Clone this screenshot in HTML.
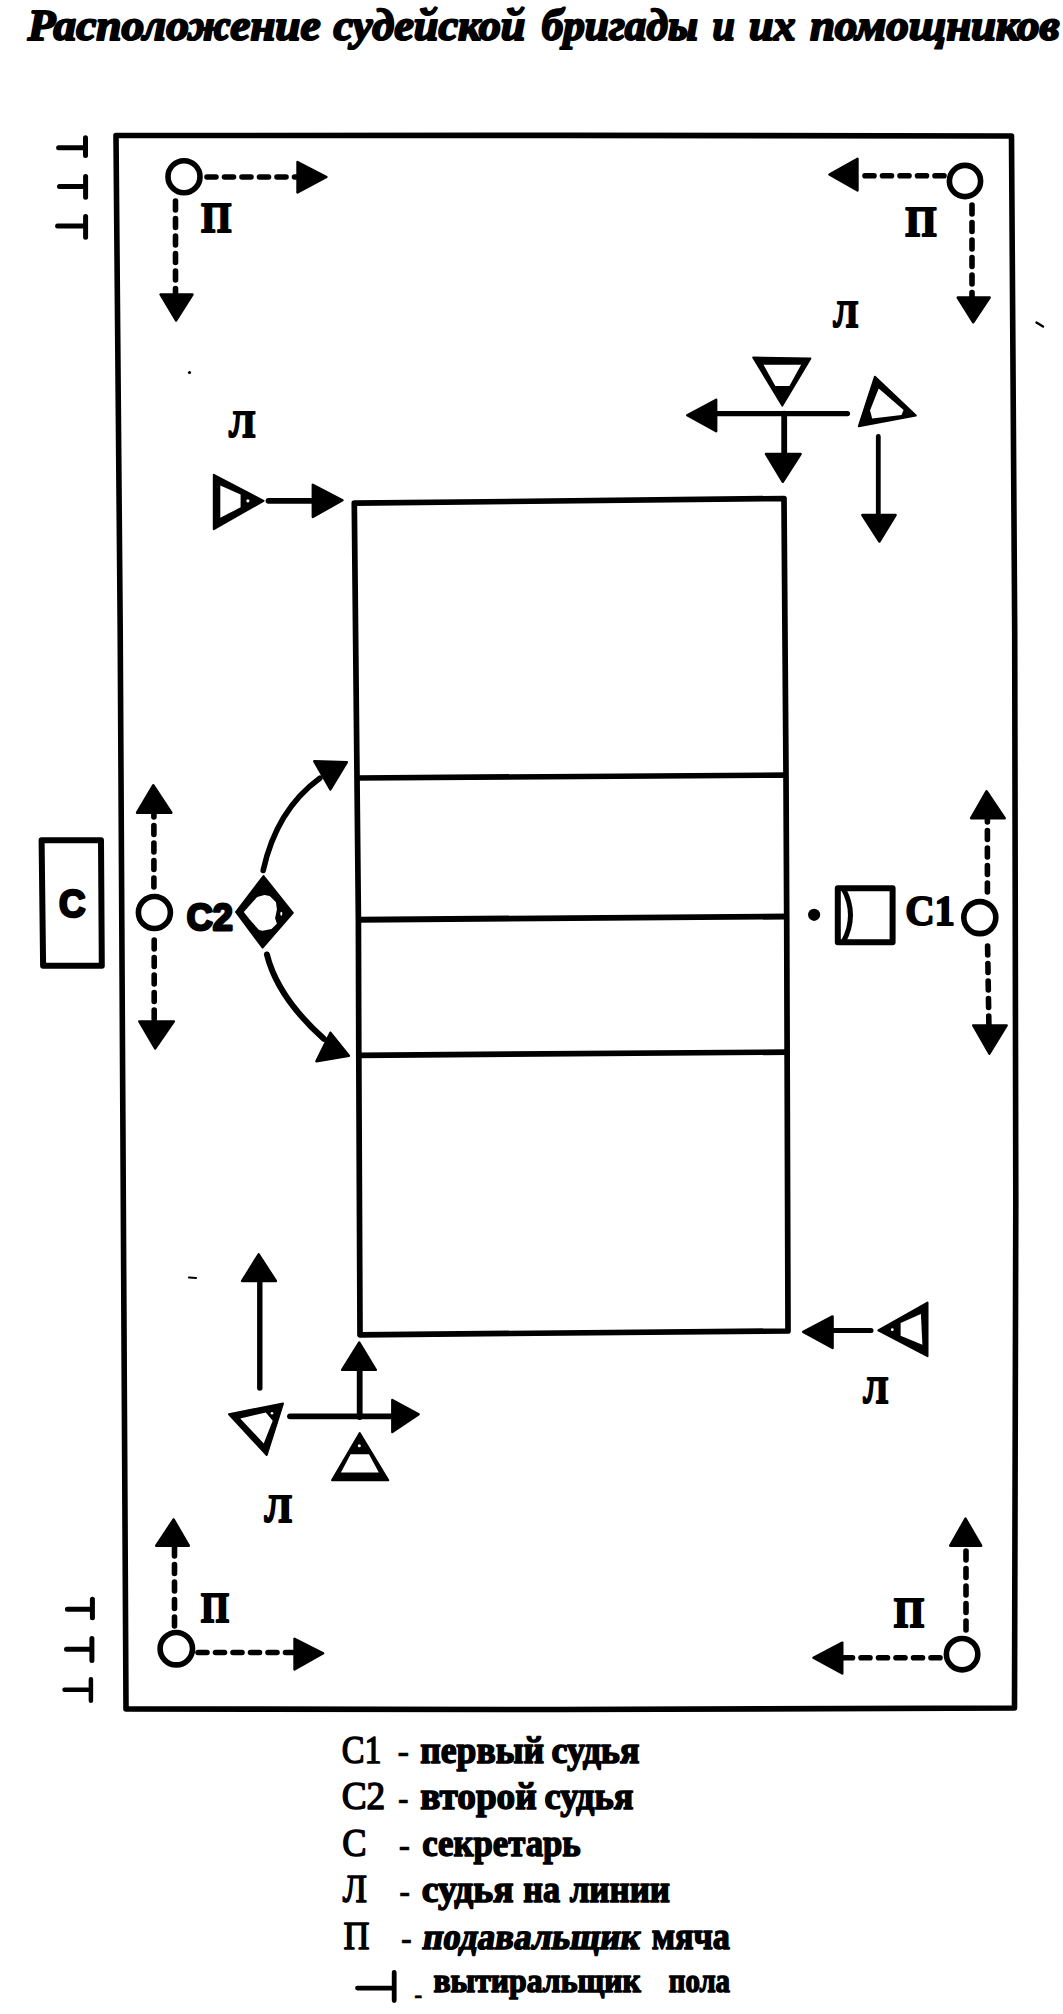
<!DOCTYPE html>
<html lang="ru">
<head>
<meta charset="utf-8">
<title>Расположение судейской бригады и их помощников</title>
<style>
html,body{margin:0;padding:0;background:#fff;}
body{width:1063px;height:2014px;overflow:hidden;position:relative;}
svg{position:absolute;left:0;top:0;display:block;}
text{font-family:"Liberation Serif","DejaVu Serif",serif;fill:#000;}
.sans{font-family:"Liberation Sans","DejaVu Sans",sans-serif;}
.b{font-weight:bold;}
.ln{stroke:#000;fill:none;stroke-linecap:butt;}
.rl{stroke:#000;fill:none;stroke-linecap:round;}
.dash{stroke:#000;fill:none;stroke-width:5.6;stroke-dasharray:9 8.5;stroke-linecap:round;}
.fill{fill:#000;stroke:#000;stroke-width:2.4;stroke-linejoin:round;}
.tri{fill:#000;stroke:#000;stroke-width:2;stroke-linejoin:round;}
.hole{fill:#fff;stroke:none;}
.circ{fill:#fff;stroke:#000;stroke-width:5.6;}
.lbl{stroke:#000;stroke-width:2.2;stroke-linejoin:round;}
.lg{stroke:#000;stroke-width:1.5;stroke-linejoin:round;}
.lgd{stroke:#000;stroke-width:0.7;stroke-linejoin:round;}
.lgb{stroke:#000;stroke-width:1.5;stroke-linejoin:round;font-weight:bold;}
</style>
</head>
<body>
<svg width="1063" height="2014" viewBox="0 0 1063 2014">
<rect x="0" y="0" width="1063" height="2014" fill="#fff"/>

<g id="title" font-weight="bold" font-style="italic" stroke="#000" stroke-width="2.2" stroke-linejoin="round">
<text x="27.7" y="40" font-size="44.5" textLength="292.9" lengthAdjust="spacingAndGlyphs">Расположение</text>
<text x="333.5" y="40" font-size="44.5" textLength="191.9" lengthAdjust="spacingAndGlyphs">судейской</text>
<text x="541.7" y="40" font-size="44.5" textLength="156.2" lengthAdjust="spacingAndGlyphs">бригады</text>
<text x="712.4" y="40" font-size="44.5" textLength="22.3" lengthAdjust="spacingAndGlyphs">и</text>
<text x="749.0" y="40" font-size="44.5" textLength="46.4" lengthAdjust="spacingAndGlyphs">их</text>
<text x="809.9" y="40" font-size="44.5" textLength="249.7" lengthAdjust="spacingAndGlyphs">помощников</text>
</g>
<path class="ln" stroke-width="5.6" stroke-linejoin="round" d="M116,135.5 L560,135.4 L1011.5,136 L1014.7,630 L1015.8,1200 L1014.5,1708 L560,1709.5 L126,1709 L123.3,1200 L120.2,630 Z"/>
<path class="ln" stroke-width="5.7" stroke-linejoin="round" d="M354.3,503.2 L784,498.5 L786,775 L786.7,916.5 L788,1331 L360,1334.8 L358.8,1055 L358.4,919.7 L357,778 Z"/>
<path class="ln" stroke-width="5.7" d="M357,778 L786,775.1"/>
<path class="ln" stroke-width="5.9" d="M358.4,919.7 L786.7,916.5"/>
<path class="ln" stroke-width="5.7" d="M358.8,1055.3 L787,1052.1"/>
<g id="tmarks" class="rl" stroke-width="5">
<path d="M58.6,147.7 L85.5,147.7 M85.5,137.7 L85.5,155.4"/>
<path d="M59.5,186.6 L85.6,186.6 M85.6,176.4 L85.6,197.3"/>
<path d="M57.6,225.9 L85.6,225.9 M85.6,216.4 L85.6,237.3"/>
<path d="M67.4,1609.3 L92.4,1609.3 M92.4,1599.2 L92.4,1617.7"/>
<path d="M66.5,1649.3 L91.9,1649.3 M91.9,1638.5 L91.9,1660.5"/>
<path stroke-width="4.5" d="M64.5,1689.7 L90.9,1689.7 M90.9,1679.2 L90.9,1700.7"/>
</g>
<g id="corners">
<path class="dash" d="M207,177 L296,177"/>
<path class="fill" d="M297.5,162 L326.5,177 L297.5,192.5 Z"/>
<path class="dash" d="M175.5,201 L175.5,293"/>
<path class="fill" d="M160.5,294.5 L192.5,294.5 L176,320.5 Z"/>
<circle class="circ" cx="184" cy="176.7" r="16"/>
<text x="201.2" y="231.5" font-size="41.5" class="b lbl" textLength="30.0" lengthAdjust="spacingAndGlyphs">П</text>
<path class="dash" d="M944,175.7 L858,175.7"/>
<path class="fill" d="M857.5,158.7 L829.4,174.5 L857.5,190.5 Z"/>
<path class="dash" d="M972,205 L972,297"/>
<path class="fill" d="M957.7,297.5 L989.7,297.5 L973.2,322.3 Z"/>
<circle class="circ" cx="965" cy="181" r="15.6"/>
<text x="905.5" y="235.9" font-size="41.5" class="b lbl" textLength="30.9" lengthAdjust="spacingAndGlyphs">П</text>
<path class="dash" d="M198,1652.5 L293,1652.5"/>
<path class="fill" d="M294.5,1638.8 L323.2,1653.3 L294.5,1669.5 Z"/>
<path class="dash" d="M174.5,1626 L174.5,1546"/>
<path class="fill" d="M156.2,1545.7 L188.8,1545.7 L173.6,1519.4 Z"/>
<circle class="circ" cx="176.3" cy="1648.7" r="16.2"/>
<text x="201.0" y="1621.9" font-size="41.5" class="b lbl" textLength="27.9" lengthAdjust="spacingAndGlyphs">П</text>
<path class="dash" stroke-width="5" d="M940,1657.8 L844,1657.8"/>
<path class="fill" d="M842.3,1642.6 L813.4,1657.8 L842.3,1673.4 Z"/>
<path class="dash" d="M966,1630 L966,1546"/>
<path class="fill" d="M950.2,1545.7 L981.2,1545.7 L965.5,1518.6 Z"/>
<circle class="circ" cx="962.1" cy="1654.2" r="15.7"/>
<text x="894.1" y="1627.2" font-size="41.5" class="b lbl" textLength="30.0" lengthAdjust="spacingAndGlyphs">П</text>
</g>
<g id="linejudges">
<text x="229.2" y="436.5" font-size="38" class="b lbl" textLength="25.8" lengthAdjust="spacingAndGlyphs">Л</text>
<path class="tri" d="M213.8,474.8 L213.8,529.2 L263.5,500.8 Z"/>
<path class="hole" d="M220.3,485.5 L240.6,494.5 L240.6,507.3 L220.3,517.8 Z"/>
<circle class="hole" cx="247.9" cy="500.8" r="1.6"/>
<path class="rl" stroke-width="5.8" d="M268.5,500.8 L312,500.8"/>
<path class="fill" d="M312.8,484.8 L342.5,500.2 L312.8,517 Z"/>
<text x="833.6" y="326.7" font-size="38" class="b lbl" textLength="24.4" lengthAdjust="spacingAndGlyphs">Л</text>
<path class="tri" d="M753.2,357.5 L810.4,358.4 L782.3,405.6 Z"/>
<path class="hole" d="M763.5,364.7 L801.1,364.7 L789.4,385.9 L775.3,385.9 Z"/>
<path class="rl" stroke-width="5.2" d="M716.5,413.6 L847.5,413.6"/>
<path class="fill" d="M716.2,399.8 L687.2,415.3 L716.2,431.2 Z"/>
<path class="rl" stroke-width="5.8" d="M784.2,413.6 L784.2,454"/>
<path class="fill" d="M765.9,454 L800.6,454 L782.8,481.8 Z"/>
<path class="tri" d="M874.9,376.8 L915.8,415.5 L858.8,426.3 Z"/>
<path class="hole" d="M878.7,388.4 L903.6,410 L901.5,415 L872.2,418.4 L870,410.6 Z"/>
<path class="rl" stroke-width="4.8" d="M878.3,436.5 L878.3,515"/>
<path class="fill" d="M862.3,515 L895.6,515 L879.4,541.5 Z"/>
<path class="rl" stroke-width="5.4" d="M259.8,1282 L259.8,1388"/>
<path class="fill" d="M242.1,1281 L275.9,1281 L258.7,1254.3 Z"/>
<path class="rl" stroke-width="5.8" d="M359.7,1371 L359.7,1417"/>
<path class="fill" d="M342.1,1369.9 L375.8,1369.9 L359.3,1342.5 Z"/>
<path class="rl" stroke-width="5.8" d="M290,1416.3 L392,1416.3"/>
<path class="fill" d="M392.3,1400 L418.7,1414.2 L392.3,1432 Z"/>
<path class="tri" d="M229,1414.2 L283,1403.5 L266.7,1455 Z"/>
<path class="hole" d="M240.3,1418.5 L265.8,1412.4 L272.7,1420.7 L263.7,1443.4 Z"/>
<circle class="hole" cx="272" cy="1413.3" r="1.3"/>
<path class="tri" d="M359.7,1433 L332,1480.2 L388.3,1480.2 Z"/>
<path class="hole" d="M350.6,1454.2 L369,1454.2 L378.8,1472.6 L340.9,1472.6 Z"/>
<circle class="hole" cx="359.3" cy="1445.8" r="1.5"/>
<text x="264.7" y="1522.3" font-size="39" class="b lbl" textLength="26.9" lengthAdjust="spacingAndGlyphs">Л</text>
<path class="rl" stroke-width="5" d="M834,1330.4 L871,1330.4"/>
<path class="fill" d="M832.6,1316.4 L803.2,1331.9 L832.6,1347.9 Z"/>
<path class="tri" d="M878.3,1330.4 L927.5,1302.5 L927.5,1356.2 Z"/>
<path class="hole" d="M900.6,1322.9 L920.9,1313.9 L922.4,1344.7 L900.6,1335.7 Z"/>
<circle class="hole" cx="892.3" cy="1329.7" r="1.4"/>
<text x="863.6" y="1402.6" font-size="37" class="b lbl" textLength="24.4" lengthAdjust="spacingAndGlyphs">Л</text>
</g>
<g id="referees">
<path class="ln" stroke-width="6" stroke-linejoin="round" d="M41.6,840.2 L101,840.2 L101.8,965.8 L43.1,965.8 Z"/>
<text x="58.9" y="917" font-size="38.5" class="sans b" textLength="26.5" lengthAdjust="spacingAndGlyphs" stroke="#000" stroke-width="2.6" stroke-linejoin="round">С</text>
<path class="dash" stroke-width="5" d="M153.9,887 L153.9,814"/>
<path class="fill" d="M137,812.7 L171.4,812.7 L153.3,785.2 Z"/>
<path class="dash" stroke-width="5" d="M154.2,940 L154.2,1019"/>
<path class="fill" d="M139.3,1021.4 L173.9,1021.4 L155.1,1048.5 Z"/>
<circle class="circ" cx="154.4" cy="912.5" r="16"/>
<text x="186.8" y="930.4" font-size="37" class="sans b" textLength="46" lengthAdjust="spacingAndGlyphs" stroke="#000" stroke-width="2.8" stroke-linejoin="round">С2</text>
<path class="tri" d="M263.5,876 L292.8,912.9 L262.6,947.6 L236,912 Z"/>
<path class="hole" d="M243.8,912 L257.2,896.9 L264.4,895.1 L269.7,896 L276,902.2 L276.9,909.4 L275.1,918.3 L276.9,923.7 L271.5,929 L262.6,930.8 L259,929.9 L250.1,920.1 Z"/>
<ellipse class="hole" cx="281.3" cy="913.8" rx="1" ry="2"/>
<path class="rl" stroke-width="5.6" d="M263.2,870.4 Q276.5,809.7 319.8,778.2"/>
<path class="fill" d="M314.2,761.2 L346.9,762.2 L330.4,789.5 Z"/>
<path class="rl" stroke-width="6" d="M266.9,954.5 Q277.6,997.3 323.8,1038.8"/>
<path class="fill" d="M330.4,1032.7 L348.9,1055.7 L316.4,1061.3 Z"/>
<circle cx="814.1" cy="914.8" r="6.1" fill="#000"/>
<path class="ln" stroke-width="6" stroke-linejoin="round" d="M837.8,888.2 L892.6,888.2 L892.6,942.3 L837.8,942.3 Z"/>
<path class="ln" stroke-width="5" d="M843.5,889 Q857.5,915 843.5,941.5"/>
<text x="905.2" y="924.8" font-size="41.5" class="b" textLength="49.8" lengthAdjust="spacingAndGlyphs" stroke="#000" stroke-width="1.8" stroke-linejoin="round">С1</text>
<path class="dash" stroke-width="5" d="M987.4,892 L987.4,820"/>
<path class="fill" d="M971.1,818.2 L1004.7,818.2 L986.6,791.2 Z"/>
<path class="dash" stroke-width="5" d="M987.6,946 L988.9,1025"/>
<path class="fill" d="M973.2,1025.4 L1006.7,1025.4 L989.4,1053.7 Z"/>
<circle class="circ" cx="979.8" cy="917.6" r="16"/>
</g>
<g id="legend">
<text x="341.7" y="1762.9" font-size="40" class="lg" textLength="39.8" lengthAdjust="spacingAndGlyphs">С1</text>
<text x="397.4" y="1764.4" font-size="40" class="lgd" textLength="11.6" lengthAdjust="spacingAndGlyphs">-</text>
<text x="420.3" y="1762.9" font-size="37" class="lgb" textLength="123.7" lengthAdjust="spacingAndGlyphs">первый</text>
<text x="551.4" y="1762.9" font-size="37" class="lgb" textLength="88.0" lengthAdjust="spacingAndGlyphs">судья</text>
<text x="341.7" y="1809.0" font-size="40" class="lg" textLength="43.6" lengthAdjust="spacingAndGlyphs">С2</text>
<text x="398" y="1810.5" font-size="40" class="lgd" textLength="10.6" lengthAdjust="spacingAndGlyphs">-</text>
<text x="420.3" y="1809.0" font-size="37" class="lgb" textLength="116.4" lengthAdjust="spacingAndGlyphs">второй</text>
<text x="544.5" y="1809.0" font-size="37" class="lgb" textLength="88.8" lengthAdjust="spacingAndGlyphs">судья</text>
<text x="342.2" y="1856.1" font-size="40" class="lg" textLength="24.3" lengthAdjust="spacingAndGlyphs">С</text>
<text x="398.7" y="1857.6" font-size="40" class="lgd" textLength="11.3" lengthAdjust="spacingAndGlyphs">-</text>
<text x="422.2" y="1856.1" font-size="37" class="lgb" textLength="158.5" lengthAdjust="spacingAndGlyphs">секретарь</text>
<text x="342.8" y="1902.3" font-size="40" class="lg" textLength="24.2" lengthAdjust="spacingAndGlyphs">Л</text>
<text x="399.2" y="1903.8" font-size="40" class="lgd" textLength="10.8" lengthAdjust="spacingAndGlyphs">-</text>
<text x="421.8" y="1902.3" font-size="37" class="lgb" textLength="91.7" lengthAdjust="spacingAndGlyphs">судья</text>
<text x="523.2" y="1902.3" font-size="37" class="lgb" textLength="36.8" lengthAdjust="spacingAndGlyphs">на</text>
<text x="569.7" y="1902.3" font-size="37" class="lgb" textLength="100.3" lengthAdjust="spacingAndGlyphs">линии</text>
<text x="343.5" y="1949.2" font-size="40" class="lg" textLength="26.0" lengthAdjust="spacingAndGlyphs">П</text>
<text x="401" y="1950.7" font-size="40" class="lgd" textLength="10.8" lengthAdjust="spacingAndGlyphs">-</text>
<text x="421.6" y="1949.2" font-size="37" class="lgb" textLength="217.6" lengthAdjust="spacingAndGlyphs" transform="translate(421.6,1949.2) skewX(-9) translate(-421.6,-1949.2)">подавальщик</text>
<text x="651.7" y="1949.2" font-size="37" class="lgb" textLength="78.3" lengthAdjust="spacingAndGlyphs">мяча</text>
<path class="rl" stroke-width="4.8" d="M357.5,1988.1 L394,1988.1 M394.2,1972.4 L394.2,2000.5"/>
<text x="414.3" y="2003.6" font-size="30" class="lgd" textLength="8.0" lengthAdjust="spacingAndGlyphs">-</text>
<text x="433.4" y="1991.7" font-size="33" class="lgb" textLength="207.3" lengthAdjust="spacingAndGlyphs">вытиральщик</text>
<text x="668.8" y="1991.7" font-size="33" class="lgb" textLength="61.2" lengthAdjust="spacingAndGlyphs">пола</text>
</g>
<g id="specks" fill="#000" stroke="#000" stroke-linecap="round">
<circle cx="189.5" cy="372.5" r="1.6" stroke="none"/>
<path stroke-width="2.4" d="M1036.5,322.5 L1043,326.5"/>
<path stroke-width="2.2" d="M189,1277.5 L196,1278"/>
</g>
</svg>
</body>
</html>
